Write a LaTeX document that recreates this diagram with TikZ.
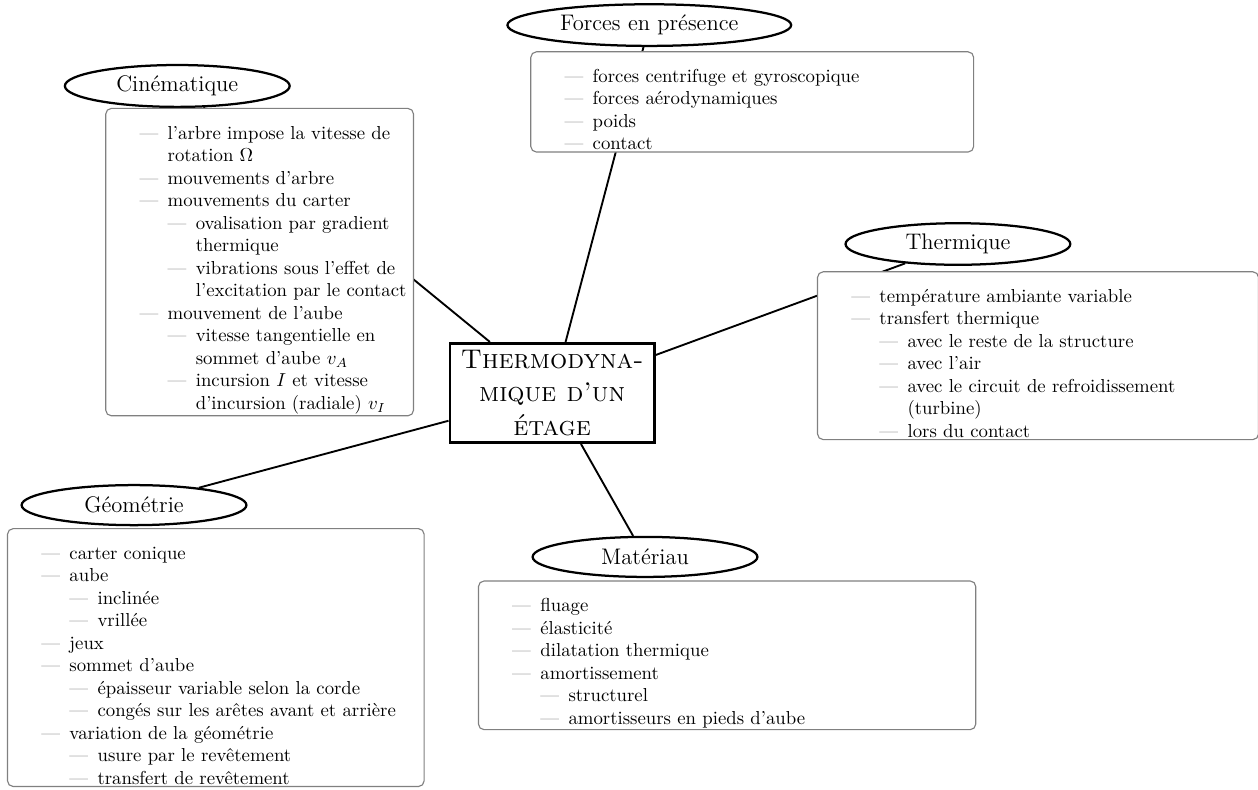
\documentclass[tikz,border=0pt]{standalone}
\usepackage{amsmath,amssymb}
\usepackage{xcolor}
\usepackage{enumitem}
\usepackage{tikz}
\usetikzlibrary{shapes.geometric,backgrounds}
\definecolor{tiret}{gray}{0.45}
\setlist[itemize]{label=\textcolor{tiret}{\textemdash}, nosep, labelsep=5pt}
\setlist[itemize,1]{leftmargin=30pt}
\setlist[itemize,2]{leftmargin=15pt}
\newcommand{\liste}[1]{\vspace*{3.3pt}\begin{itemize}#1\end{itemize}}
\tikzset{
  titre/.style={draw, very thick, ellipse, fill=white, font=\large, inner xsep=6pt, inner ysep=2.5pt,
    minimum width=4.21cm, minimum height=0.75cm},
  liste/.style={draw=gray, semithick, rounded corners=3pt, fill=white, anchor=north west,
    inner xsep=3pt, inner ysep=1pt, align=left},
  coeur/.style={draw, line width=1.4pt, fill=white, align=center, font=\Large\scshape,
    minimum width=109pt, minimum height=53pt},
  lien/.style={draw, line width=1pt}
}

\begin{document}
\begin{tikzpicture}
  \useasboundingbox (0,0) rectangle (23.56,14.78);

  % centre
  \node[coeur] (thermo) at (10.34,7.42) {Thermodyna-\\mique d'un\\étage};

  % titres
  \node[titre] (cine) at (3.32,13.17) {Cinématique};
  \node[titre] (forces) at (12.16,14.31) {Forces en présence};
  \node[titre] (therm) at (17.94,10.21) {Thermique};
  \node[titre] (geom) at (2.51,5.32) {Géométrie};
  \node[titre] (mat) at (12.08,4.35) {Matériau};

  % listes
  \node[liste, text width=158pt] (cineliste) at (1.97,12.76) {\liste{
    \item l'arbre impose la vitesse de rotation $\Omega$
    \item mouvements d'arbre
    \item mouvements du carter
    \begin{itemize}
      \item ovalisation par gradient thermique
      \item vibrations sous l'effet de l'excitation par le contact
    \end{itemize}
    \item mouvement de l'aube
    \begin{itemize}
      \item vitesse tangentielle en sommet d'aube $v_A$
      \item incursion $I$ et vitesse d'incursion (radiale) $v_I$
    \end{itemize}}};
  \node[liste, text width=230pt] (forcesliste) at (9.93,13.82) {\liste{
    \item forces centrifuge et gyroscopique
    \item forces aérodynamiques
    \item poids
    \item contact}};
  \node[liste, text width=229pt] (thermliste) at (15.30,9.70) {\liste{
    \item température ambiante variable
    \item transfert thermique
    \begin{itemize}
      \item avec le reste de la structure
      \item avec l'air
      \item avec le circuit de refroidissement (turbine)
      \item lors du contact
    \end{itemize}}};
  \node[liste, text width=216pt] (geomliste) at (0.13,4.89) {\liste{
    \item carter conique
    \item aube
    \begin{itemize}
      \item inclinée
      \item vrillée
    \end{itemize}
    \item jeux
    \item sommet d'aube
    \begin{itemize}
      \item épaisseur variable selon la corde
      \item congés sur les arêtes avant et arrière
    \end{itemize}
    \item variation de la géométrie
    \begin{itemize}
      \item usure par le revêtement
      \item transfert de revêtement
    \end{itemize}}};
  \node[liste, text width=259pt] (matliste) at (8.95,3.91) {\liste{
    \item fluage
    \item élasticité
    \item dilatation thermique
    \item amortissement
    \begin{itemize}
      \item structurel
      \item amortisseurs en pieds d'aube
    \end{itemize}}};

  % liens
  \begin{scope}[on background layer]
    \foreach \t in {cine,forces,therm,geom,mat}
      \path[lien] (thermo) -- (\t);
  \end{scope}
\end{tikzpicture}
\end{document}
